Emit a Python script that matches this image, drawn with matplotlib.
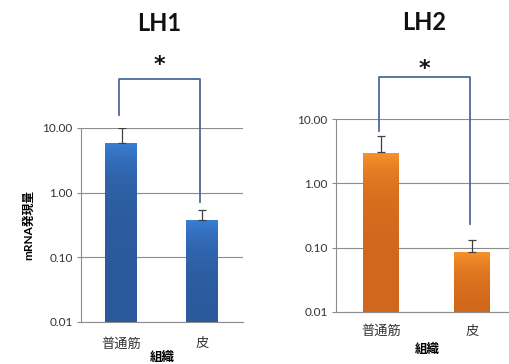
import numpy as np
import matplotlib.pyplot as plt
from matplotlib.colors import LinearSegmentedColormap

plt.rcParams['font.family'] = ['Lato', 'Noto Sans CJK JP', 'DejaVu Sans']

tissues = ["普通筋", "皮"]
genes = ["LH1", "LH2"]

# mean expression and upper error per tissue
lh1_mean = [5.9, 0.38]
lh1_err_top = [10.0, 0.54]
lh2_mean = [3.07, 0.087]
lh2_err_top = [5.4, 0.133]

# significance bracket: top height, left leg end, right leg end, star height
lh1_bracket = [57.0, 16.0, 0.72, 95.0]
lh2_bracket = [45.0, 6.5, 0.23, 60.0]

ticks = [0.01, 0.1, 1, 10]
tick_labels = ["0.01", "0.10", "1.00", "10.00"]

blue = LinearSegmentedColormap.from_list("b", ["#2b5a9c", "#3b7fd6"])
orange = LinearSegmentedColormap.from_list("o", ["#d0671c", "#f9942c"])

fig = plt.figure(figsize=(5.10, 3.64), dpi=100)
ax1 = fig.add_axes([0.159, 0.1154, 0.317, 0.533])
ax2 = fig.add_axes([0.659, 0.143, 0.356, 0.530])


def draw_panel(ax, means, err_top, cmap, bracket, title, title_y, xpad, lpad):
    x = np.arange(len(tissues))
    ax.set_yscale("log")
    grad = np.linspace(0, 1, 256).reshape(-1, 1)
    bars = ax.bar(x, means, width=0.4, color="none", zorder=3)
    for b, m in zip(bars, means):
        x0 = b.get_x()
        im = ax.imshow(grad, cmap=cmap, origin="lower", aspect="auto",
                       extent=(x0, x0 + b.get_width(), 0.01, m), zorder=3)
        im.set_clip_path(b)
    yerr = np.array(err_top) - np.array(means)
    ax.errorbar(x, means, yerr=[np.zeros_like(yerr), yerr], fmt="none",
                ecolor="#404040", elinewidth=0.9, capsize=3, capthick=0.9, zorder=4)
    ax.set_xlim(-0.5, 1.5)
    ax.set_ylim(0.01, 10)

    ax.set_yticks(ticks)
    ax.set_yticklabels(tick_labels)
    ax.minorticks_off()
    ax.yaxis.grid(True, color="#8c8c8c", linewidth=0.8)
    ax.set_axisbelow(True)
    for s in ["top", "right"]:
        ax.spines[s].set_visible(False)
    for s in ["left", "bottom"]:
        ax.spines[s].set_color("#8c8c8c")
        ax.spines[s].set_linewidth(0.8)
    ax.tick_params(axis="y", length=3, color="#8c8c8c", labelsize=8.5,
                   labelcolor="#333333", pad=3)
    ax.tick_params(axis="x", length=0, labelsize=9.5, labelcolor="#333333", pad=xpad)
    ax.set_xticks(x)
    ax.set_xticklabels(tissues)
    ax.set_xlabel("組織", fontsize=9, fontweight="bold", labelpad=lpad)

    top, left_end, right_end, star_y = bracket
    xl, xr = -0.03, 0.97
    ax.plot([xl, xl, xr, xr], [left_end, top, top, right_end],
            color="#4a6b98", linewidth=1.3, clip_on=False, zorder=5)
    ax.text((xl + xr) / 2, star_y, "*", ha="center", va="center",
            fontsize=16, fontweight="bold", color="#111111",
            family="DejaVu Sans")
    ax.text((xl + xr) / 2, title_y, title, ha="center", va="center",
            transform=ax.get_xaxis_transform(),
            fontsize=17, fontweight="bold", color="#111111")


draw_panel(ax1, lh1_mean, lh1_err_top, blue, lh1_bracket, genes[0], 1.54, 11, 0.5)
draw_panel(ax2, lh2_mean, lh2_err_top, orange, lh2_bracket, genes[1], 1.50, 9, 4)
ax1.set_ylabel("mRNA発現量", fontsize=8.5, fontweight="bold", labelpad=6)

fig.savefig("out.png", dpi=100)
